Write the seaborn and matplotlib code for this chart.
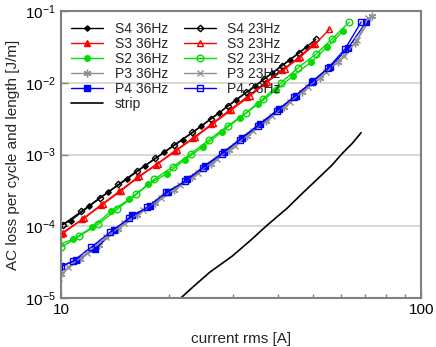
import numpy as np
import pandas as pd
import seaborn as sns
from matplotlib import pyplot as plt
from matplotlib.ticker import LogLocator, NullFormatter

# current rms [A] and AC loss per cycle [J/m]
s4_36_I = [9.9, 10.64, 11.99, 13.54, 15.22, 17.15, 19.37, 21.77, 24.48, 27.4, 30.6, 34.5, 38.5, 43.1, 48.1]
s4_36_Q = [1.02e-4, 1.2e-4, 1.92e-4, 3.0e-4, 4.54e-4, 7.03e-4, 1.077e-3, 1.62e-3, 2.47e-3, 3.79e-3, 5.81e-3, 8.99e-3, 1.36e-2, 2.09e-2, 3.16e-2]
s4_23_I = [10.11, 11.39, 12.8, 14.43, 16.23, 18.28, 20.6, 23.17, 26.04, 29.16, 32.72, 36.64, 41.02, 45.92, 50.97]
s4_23_Q = [1.054e-4, 1.615e-4, 2.48e-4, 3.83e-4, 5.87e-4, 8.89e-4, 1.36e-3, 2.04e-3, 3.13e-3, 4.8e-3, 7.34e-3, 1.136e-2, 1.72e-2, 2.64e-2, 4.04e-2]

s3_36_I = [10.15, 11.44, 12.89, 14.49, 16.29, 18.36, 20.69, 23.26, 26.16, 29.3, 32.9, 36.8, 41.2, 45.6, 50.2]
s3_36_Q = [8.07e-5, 1.25e-4, 1.97e-4, 3.06e-4, 4.8e-4, 7.26e-4, 1.125e-3, 1.7e-3, 2.65e-3, 4.13e-3, 6.39e-3, 1.0e-2, 1.53e-2, 2.22e-2, 3.5e-2]
s3_23_I = [10.0, 11.6, 13.1, 14.7, 16.5, 18.6, 21.0, 23.6, 26.5, 29.7, 33.4, 37.3, 41.8, 46.2, 50.8, 55.6]
s3_23_Q = [7.9e-5, 1.3e-4, 2.05e-4, 3.15e-4, 4.95e-4, 7.5e-4, 1.16e-3, 1.75e-3, 2.72e-3, 4.2e-3, 6.5e-3, 1.02e-2, 1.56e-2, 2.3e-2, 3.5e-2, 5.56e-2]

s2_36_I = [9.9, 10.8, 12.19, 13.77, 15.45, 17.45, 19.7, 22.1, 24.8, 28.0, 31.4, 35.3, 39.6, 44.1, 49.5, 54.8, 60.7]
s2_36_Q = [5.6e-5, 6.59e-5, 9.68e-5, 1.62e-4, 2.37e-4, 3.83e-4, 5.45e-4, 8.53e-4, 1.29e-3, 2.09e-3, 3.27e-3, 5.11e-3, 8.0e-3, 1.25e-2, 1.96e-2, 3.16e-2, 5.28e-2]
s2_23_I = [10.0, 11.22, 12.67, 14.3, 16.16, 18.13, 20.47, 22.96, 25.8, 29.1, 32.7, 36.4, 40.8, 45.5, 51.1, 56.6, 63.1]
s2_23_Q = [5.1e-5, 7.26e-5, 1.07e-4, 1.72e-4, 2.78e-4, 4.5e-4, 6.81e-4, 1.03e-3, 1.62e-3, 2.53e-3, 3.83e-3, 6.0e-3, 1.0e-2, 1.62e-2, 2.53e-2, 4.09e-2, 7.03e-2]

p3_36_I = [10.0, 11.29, 12.75, 14.4, 16.26, 18.25, 20.6, 23.1, 26.1, 29.3, 32.9, 37.1, 41.6, 46.7, 52.4, 58.8, 65.6, 73.1]
p3_36_Q = [2.15e-5, 3.48e-5, 5.45e-5, 9.08e-5, 1.42e-4, 2.09e-4, 3.16e-4, 4.8e-4, 7.5e-4, 1.17e-3, 1.84e-3, 2.97e-3, 4.64e-3, 7.5e-3, 1.17e-2, 1.96e-2, 3.59e-2, 8.5e-2]
p3_23_I = [9.9, 10.46, 11.81, 13.34, 14.96, 16.9, 18.96, 21.4, 24.0, 27.1, 30.4, 34.1, 38.6, 43.3, 48.5, 54.5, 61.1, 66.4, 71.2]
p3_23_Q = [1.9e-5, 2.7e-5, 4.22e-5, 7.03e-5, 1.1e-4, 1.67e-4, 2.45e-4, 3.71e-4, 5.62e-4, 8.8e-4, 1.33e-3, 2.15e-3, 3.48e-3, 5.45e-3, 8.8e-3, 1.42e-2, 2.37e-2, 3.96e-2, 8.0e-2]

p4_36_I = [9.9, 11.01, 12.43, 14.04, 15.75, 17.67, 19.83, 22.4, 25.1, 28.4, 31.8, 35.7, 40.3, 45.0, 50.1, 55.9, 62.7, 70.3]
p4_36_Q = [2.7e-5, 3.37e-5, 4.8e-5, 8.8e-5, 1.42e-4, 1.9e-4, 2.97e-4, 4.5e-4, 7.03e-4, 1.1e-3, 1.72e-3, 2.7e-3, 4.35e-3, 6.6e-3, 1.07e-2, 1.67e-2, 3.06e-2, 7.03e-2]
p4_23_I = [10.0, 10.8, 12.12, 13.68, 15.45, 17.34, 19.57, 22.1, 24.8, 28.0, 31.4, 35.3, 39.8, 44.4, 49.8, 55.2, 61.5, 68.1]
p4_23_Q = [2.78e-5, 3.27e-5, 5.1e-5, 8.26e-5, 1.29e-4, 1.84e-4, 2.97e-4, 4.22e-4, 6.6e-4, 1.03e-3, 1.62e-3, 2.53e-3, 4.08e-3, 6.39e-3, 1.03e-2, 1.62e-2, 2.97e-2, 7.03e-2]

strip_I = [21.0, 23.5, 25.9, 29.85, 33.5, 37.3, 42.4, 47.0, 52.4, 56.5, 60.3, 64.5, 68.1]
strip_Q = [9.0e-6, 1.5e-5, 2.3e-5, 3.83e-5, 6.3e-5, 1.03e-4, 1.78e-4, 2.95e-4, 4.95e-4, 7.1e-4, 1.03e-3, 1.45e-3, 2.02e-3]

GREEN = "#00dd00"
GREY = "#909090"

# label, I, Q, colour, marker, filled, marker size
series = [
    ("S4 36Hz", s4_36_I, s4_36_Q, "black", "D", True, 2.8),
    ("S3 36Hz", s3_36_I, s3_36_Q, "red", "^", True, 4),
    ("S2 36Hz", s2_36_I, s2_36_Q, GREEN, "o", True, 4),
    ("P3 36Hz", p3_36_I, p3_36_Q, GREY, (6, 2, 0), True, 5.5),
    ("P4 36Hz", p4_36_I, p4_36_Q, "blue", "s", True, 4),
    ("strip", strip_I, strip_Q, "black", None, True, 0),
    ("S4 23Hz", s4_23_I, s4_23_Q, "black", "D", False, 3.3),
    ("S3 23Hz", s3_23_I, s3_23_Q, "red", "^", False, 4.8),
    ("S2 23Hz", s2_23_I, s2_23_Q, GREEN, "o", False, 4.8),
    ("P3 23Hz", p3_23_I, p3_23_Q, GREY, "x", True, 4),
    ("P4 23Hz", p4_23_I, p4_23_Q, "blue", "s", False, 5),
]

sns.set_style("ticks")
plt.rcParams["font.family"] = ["Liberation Sans", "DejaVu Sans"]
plt.rcParams["mathtext.default"] = "regular"

fig = plt.figure(figsize=(4.36, 3.47), dpi=100)
ax = fig.add_axes([0.140, 0.141, 0.826, 0.827])

for label, I, Q, col, mk, filled, ms in series:
    df = pd.DataFrame({"I": I, "Q": Q})
    kw = dict(color=col, linewidth=1.0 if mk is not None else 1.2)
    if mk is not None:
        kw.update(marker=mk, markersize=ms, markeredgecolor=col,
                  markerfacecolor=col if filled else "none", markeredgewidth=1.0)
    sns.lineplot(data=df, x="I", y="Q", ax=ax, label=label, sort=False,
                 estimator=None, **kw)

ax.set_xscale("log")
ax.set_yscale("log")
ax.set_xlim(10, 100)
ax.set_ylim(1e-5, 1e-1)

ax.set_xticks([10, 100])
ax.set_xticklabels(["10", "100"])
ax.xaxis.set_minor_locator(LogLocator(base=10, subs=np.arange(2, 10)))
ax.xaxis.set_minor_formatter(NullFormatter())
ax.yaxis.set_major_locator(LogLocator(base=10, numticks=10))
ax.yaxis.set_minor_locator(LogLocator(base=10, subs=[]))

ax.tick_params(which="both", direction="in", colors="#808080", labelcolor="black", labelsize=11)
ax.tick_params(which="major", length=5, width=1)
ax.tick_params(which="minor", length=3, width=1)
ax.grid(True, which="major", axis="y", color="#d4d4d4", linewidth=1.3)
ax.set_axisbelow(True)
for sp in ax.spines.values():
    sp.set_color("#808080")
    sp.set_linewidth(1.5)

ax.set_xlabel("current rms [A]", fontsize=11, labelpad=11)
ax.set_ylabel("AC loss per cycle and length [J/m]", fontsize=11, labelpad=4)

leg = ax.legend(ncol=2, frameon=False, loc="upper left", fontsize=10,
                labelspacing=0.08, handlelength=2.3, columnspacing=1.15,
                handletextpad=0.8, borderaxespad=0.35)

plt.savefig("out.png", dpi=100)
